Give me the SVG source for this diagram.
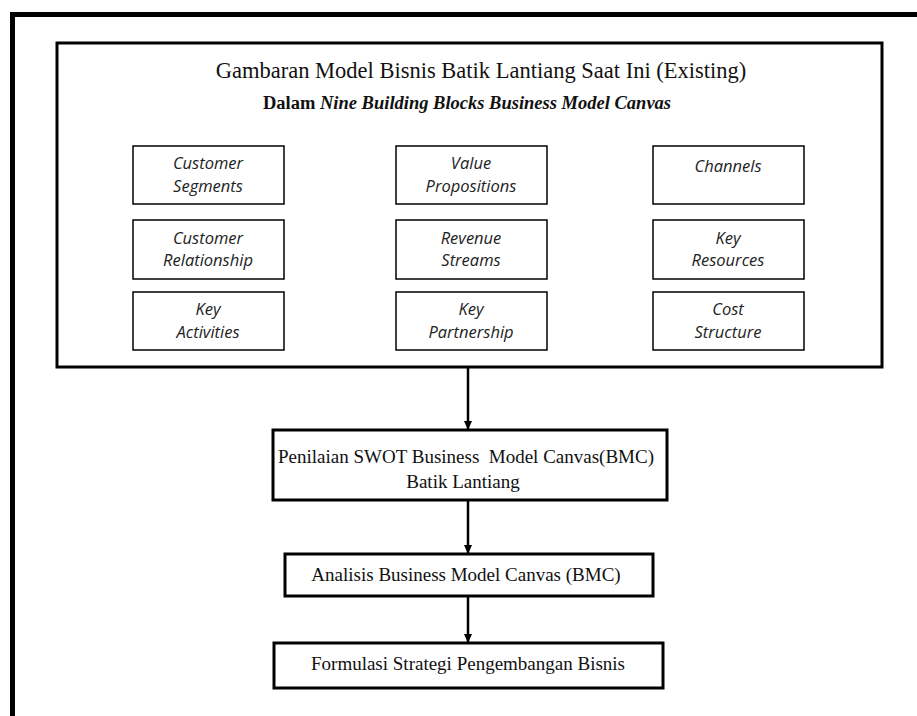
<svg xmlns="http://www.w3.org/2000/svg" width="917" height="716" viewBox="0 0 917 716">
<style>
.blk{fill:#fff;stroke:#000;stroke-width:1.5}
.main{fill:#fff;stroke:#000;stroke-width:3}
.step{fill:#fff;stroke:#000;stroke-width:3}
.it{font-family:"Open Sans","DejaVu Sans",sans-serif;font-style:italic;font-size:16.5px;fill:#222;text-anchor:middle}
.tr{font-family:"Liberation Serif","DejaVu Serif",serif;fill:#111;text-anchor:middle}
.conn{stroke:#000;stroke-width:2.5;fill:none}
</style>
<defs>
<marker id="ah" markerWidth="10" markerHeight="10" refX="8" refY="5" orient="auto" markerUnits="userSpaceOnUse">
<path d="M0,1 L9,5 L0,9 Z" fill="#000"/>
</marker>
</defs>
<rect width="917" height="716" fill="#fff"/>
<g id="frame">
<line x1="10" y1="14.5" x2="917" y2="14.5" stroke="#000" stroke-width="5"/>
<line x1="12.5" y1="12" x2="12.5" y2="716" stroke="#000" stroke-width="5"/>
</g>
<g id="main">
<rect class="main" x="57" y="43" width="825" height="324"/>
<text class="tr" x="481" y="78" font-size="22.5">Gambaran Model Bisnis Batik Lantiang Saat Ini (Existing)</text>
<text class="tr" x="467" y="109" font-size="18.5" font-weight="bold">Dalam <tspan font-style="italic">Nine Building Blocks Business Model Canvas</tspan></text>
</g>
<g id="customer-segments"><rect class="blk" x="133" y="146" width="151" height="58"/><text class="it" x="208" y="169">Customer</text><text class="it" x="208" y="192">Segments</text></g>
<g id="value-propositions"><rect class="blk" x="396" y="146" width="151" height="58"/><text class="it" x="471" y="169">Value</text><text class="it" x="471" y="192">Propositions</text></g>
<g id="channels"><rect class="blk" x="653" y="146" width="151" height="58"/><text class="it" x="728" y="172">Channels</text></g>
<g id="customer-relationship"><rect class="blk" x="133" y="220" width="151" height="59"/><text class="it" x="208" y="244">Customer</text><text class="it" x="208" y="266">Relationship</text></g>
<g id="revenue-streams"><rect class="blk" x="396" y="220" width="151" height="59"/><text class="it" x="471" y="244">Revenue</text><text class="it" x="471" y="266">Streams</text></g>
<g id="key-resources"><rect class="blk" x="653" y="220" width="151" height="59"/><text class="it" x="728" y="244">Key</text><text class="it" x="728" y="266">Resources</text></g>
<g id="key-activities"><rect class="blk" x="133" y="292" width="151" height="58"/><text class="it" x="208" y="315">Key</text><text class="it" x="208" y="338">Activities</text></g>
<g id="key-partnership"><rect class="blk" x="396" y="292" width="151" height="58"/><text class="it" x="471" y="315">Key</text><text class="it" x="471" y="338">Partnership</text></g>
<g id="cost-structure"><rect class="blk" x="653" y="292" width="151" height="58"/><text class="it" x="728" y="315">Cost</text><text class="it" x="728" y="338">Structure</text></g>
<g id="swot">
<rect class="step" x="273" y="430" width="394" height="70"/>
<text class="tr" x="466" y="463" font-size="19" xml:space="preserve">Penilaian SWOT Business  Model Canvas(BMC)</text>
<text class="tr" x="463" y="488" font-size="19">Batik Lantiang</text>
</g>
<g id="analisis">
<rect class="step" x="285" y="554" width="368" height="42"/>
<text class="tr" x="466" y="581" font-size="19">Analisis Business Model Canvas (BMC)</text>
</g>
<g id="formulasi">
<rect class="step" x="274" y="643" width="389" height="45"/>
<text class="tr" x="468" y="670" font-size="19">Formulasi Strategi Pengembangan Bisnis</text>
</g>
<g id="connectors">
<line class="conn" x1="468" y1="368" x2="468" y2="429" marker-end="url(#ah)"/>
<line class="conn" x1="468" y1="501" x2="468" y2="553" marker-end="url(#ah)"/>
<line class="conn" x1="468" y1="597" x2="468" y2="642" marker-end="url(#ah)"/>
</g>
</svg>
